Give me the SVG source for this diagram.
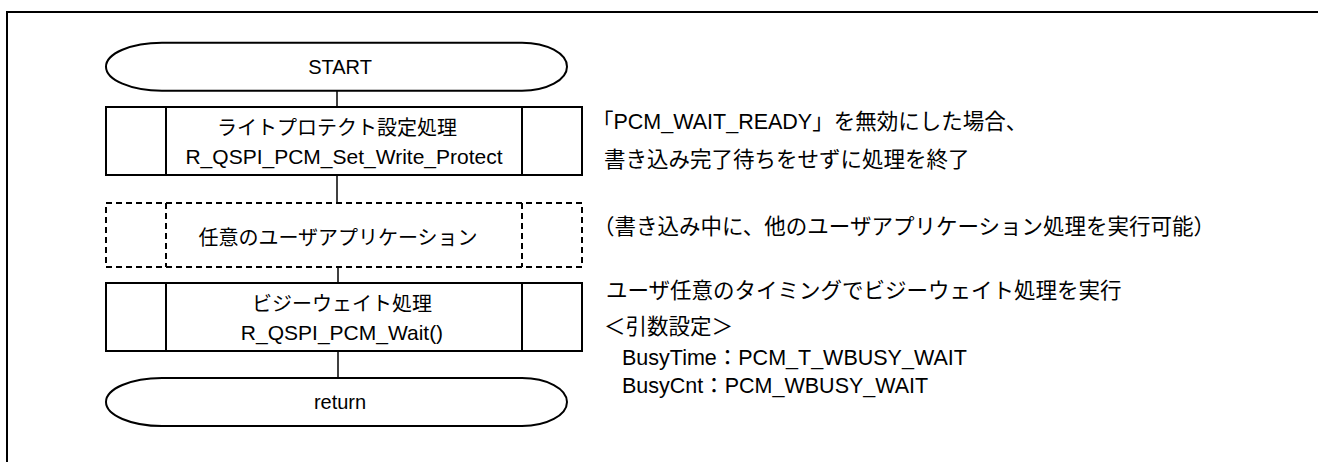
<svg xmlns="http://www.w3.org/2000/svg" width="1318" height="462" viewBox="0 0 1318 462">
<style>
  text { font-family: "Liberation Sans", "Noto Sans CJK JP", sans-serif; fill: #000; }
  .n { font-size: 20px; text-anchor: middle; }
  .a { font-size: 21.5px; }
  .shape { fill: #fff; stroke: #000; stroke-width: 2; }
  .dash { fill: #fff; stroke: #000; stroke-width: 2; stroke-dasharray: 6 4; }
  .div { stroke: #000; stroke-width: 2; }
  .divd { stroke: #000; stroke-width: 2; stroke-dasharray: 6 4; }
  .conn { stroke: #000; stroke-width: 1.5; fill: none; }
</style>
<rect x="0" y="0" width="1318" height="462" fill="#fff"/>
<g id="frame">
  <path d="M7,462 V12 H1318" fill="none" stroke="#000" stroke-width="2"/>
</g>
<g id="connectors">
  <line class="conn" x1="337" y1="90.7" x2="337" y2="107"/>
  <line class="conn" x1="337" y1="175" x2="337" y2="203"/>
  <line class="conn" x1="338" y1="267" x2="338" y2="283"/>
  <line class="conn" x1="338" y1="351" x2="338" y2="378"/>
</g>
<g id="start">
  <path class="shape" d="M162,42.7 H522 A45,24 0 0 1 522,90.7 H162 A56,24 0 0 1 162,42.7 Z"/>
  <text class="n" x="340" y="74">START</text>
</g>
<g id="write-protect">
  <rect class="shape" x="106" y="107" width="476" height="68"/>
  <line class="div" x1="166" y1="107" x2="166" y2="175"/>
  <line class="div" x1="522" y1="107" x2="522" y2="175"/>
  <text class="n" x="337" y="135">ライトプロテクト設定処理</text>
  <text class="n" x="344" y="164" style="font-size:21px">R_QSPI_PCM_Set_Write_Protect</text>
</g>
<g id="user-app">
  <rect class="dash" x="106" y="203" width="476" height="64"/>
  <line class="divd" x1="166" y1="203" x2="166" y2="267"/>
  <line class="divd" x1="522" y1="203" x2="522" y2="267"/>
  <text class="n" x="338" y="245">任意のユーザアプリケーション</text>
</g>
<g id="busy-wait">
  <rect class="shape" x="106" y="283" width="476" height="68"/>
  <line class="div" x1="166" y1="283" x2="166" y2="351"/>
  <line class="div" x1="522" y1="283" x2="522" y2="351"/>
  <text class="n" x="342" y="311">ビジーウェイト処理</text>
  <text class="n" x="342" y="340" style="font-size:21px">R_QSPI_PCM_Wait()</text>
</g>
<g id="return">
  <path class="shape" d="M162,378 H522 A45,24 0 0 1 522,426 H162 A56,24 0 0 1 162,378 Z"/>
  <text class="n" x="340" y="409">return</text>
</g>
<g id="notes">
  <text class="a" x="592" y="129">「PCM_WAIT_READY」を無効にした場合、</text>
  <text class="a" x="604" y="167">書き込み完了待ちをせずに処理を終了</text>
  <text class="a" x="593" y="234">（書き込み中に、他のユーザアプリケーション処理を実行可能）</text>
  <text class="a" x="606" y="298">ユーザ任意のタイミングでビジーウェイト処理を実行</text>
  <text class="a" x="604" y="334">＜引数設定＞</text>
  <text class="a" x="622" y="365">BusyTime：PCM_T_WBUSY_WAIT</text>
  <text class="a" x="622" y="393">BusyCnt：PCM_WBUSY_WAIT</text>
</g>
</svg>
